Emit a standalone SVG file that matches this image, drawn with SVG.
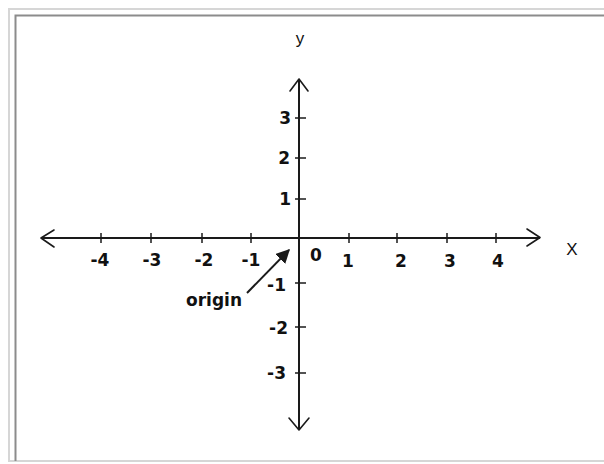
<svg xmlns="http://www.w3.org/2000/svg" width="604" height="464" viewBox="0 0 604 464">
  <style>
    .axis { stroke: #1a1a1a; stroke-width: 2; fill: none; }
    .tick { stroke: #1a1a1a; stroke-width: 1.5; fill: none; }
    .head { stroke: #1a1a1a; stroke-width: 1.6; fill: none; stroke-linecap: round; stroke-linejoin: round; }
    .num { font-family: "DejaVu Sans", "Liberation Sans", sans-serif; font-weight: bold; font-size: 17px; fill: #111; }
    .axlabel { font-family: "Liberation Sans", Arial, sans-serif; font-size: 17px; fill: #111; }
  </style>
  <defs>
    <marker id="solidhead" viewBox="0 0 10 10" refX="9" refY="5" markerWidth="7" markerHeight="7" markerUnits="strokeWidth" orient="auto">
      <path d="M0,0 L10,5 L0,10 z" fill="#1a1a1a"/>
    </marker>
  </defs>
  <rect x="0" y="0" width="604" height="464" fill="#ffffff"/>
  <g id="frame">
    <rect x="9" y="9" width="600" height="452" fill="none" stroke="#d6d6d6" stroke-width="2"/>
    <path d="M15.5,461 V15.5 H604" fill="none" stroke="#8c8c8c" stroke-width="2"/>
  </g>
  <g id="connectors">
    <line class="axis" x1="41" y1="238" x2="540" y2="238"/>
    <line class="axis" x1="299" y1="79" x2="299" y2="430"/>
    <path class="head" d="M54,230 L41,238 L54,247"/>
    <path class="head" d="M527,229 L540,237.5 L527,246"/>
    <path class="head" d="M290,91 L299,79 L308,91"/>
    <path class="head" d="M289,418 L299,430 L309,418"/>
    <line x1="247" y1="293" x2="289" y2="250" stroke="#1a1a1a" stroke-width="2" marker-end="url(#solidhead)"/>
  </g>
  <g id="x-ticks">
    <line class="tick" x1="101" y1="233" x2="101" y2="243"/>
    <line class="tick" x1="151" y1="233" x2="151" y2="243"/>
    <line class="tick" x1="202" y1="233" x2="202" y2="243"/>
    <line class="tick" x1="251" y1="233" x2="251" y2="243"/>
    <line class="tick" x1="349" y1="233" x2="349" y2="243"/>
    <line class="tick" x1="397" y1="233" x2="397" y2="243"/>
    <line class="tick" x1="447" y1="233" x2="447" y2="243"/>
    <line class="tick" x1="496" y1="233" x2="496" y2="243"/>
  </g>
  <g id="y-ticks">
    <line class="tick" x1="295" y1="118" x2="306" y2="118"/>
    <line class="tick" x1="295" y1="158" x2="306" y2="158"/>
    <line class="tick" x1="295" y1="199" x2="306" y2="199"/>
    <line class="tick" x1="295" y1="283" x2="306" y2="283"/>
    <line class="tick" x1="295" y1="327" x2="306" y2="327"/>
    <line class="tick" x1="295" y1="373" x2="306" y2="373"/>
  </g>
  <g id="x-labels" class="num" text-anchor="middle">
    <text x="100" y="266">-4</text>
    <text x="152" y="266">-3</text>
    <text x="204" y="266">-2</text>
    <text x="251" y="266">-1</text>
    <text x="316" y="261">0</text>
    <text x="348" y="267">1</text>
    <text x="401" y="267">2</text>
    <text x="450" y="267">3</text>
    <text x="498" y="267">4</text>
  </g>
  <g id="y-labels" class="num" text-anchor="end">
    <text x="291" y="124">3</text>
    <text x="290" y="164">2</text>
    <text x="291" y="205">1</text>
    <text x="286" y="291">-1</text>
    <text x="288" y="334">-2</text>
    <text x="286" y="379">-3</text>
  </g>
  <g id="origin-label">
    <text class="num" x="186" y="306" font-size="18">origin</text>
  </g>
  <g id="axis-names" class="axlabel" text-anchor="middle">
    <text x="300" y="44">y</text>
    <text x="572" y="255">X</text>
  </g>
</svg>
